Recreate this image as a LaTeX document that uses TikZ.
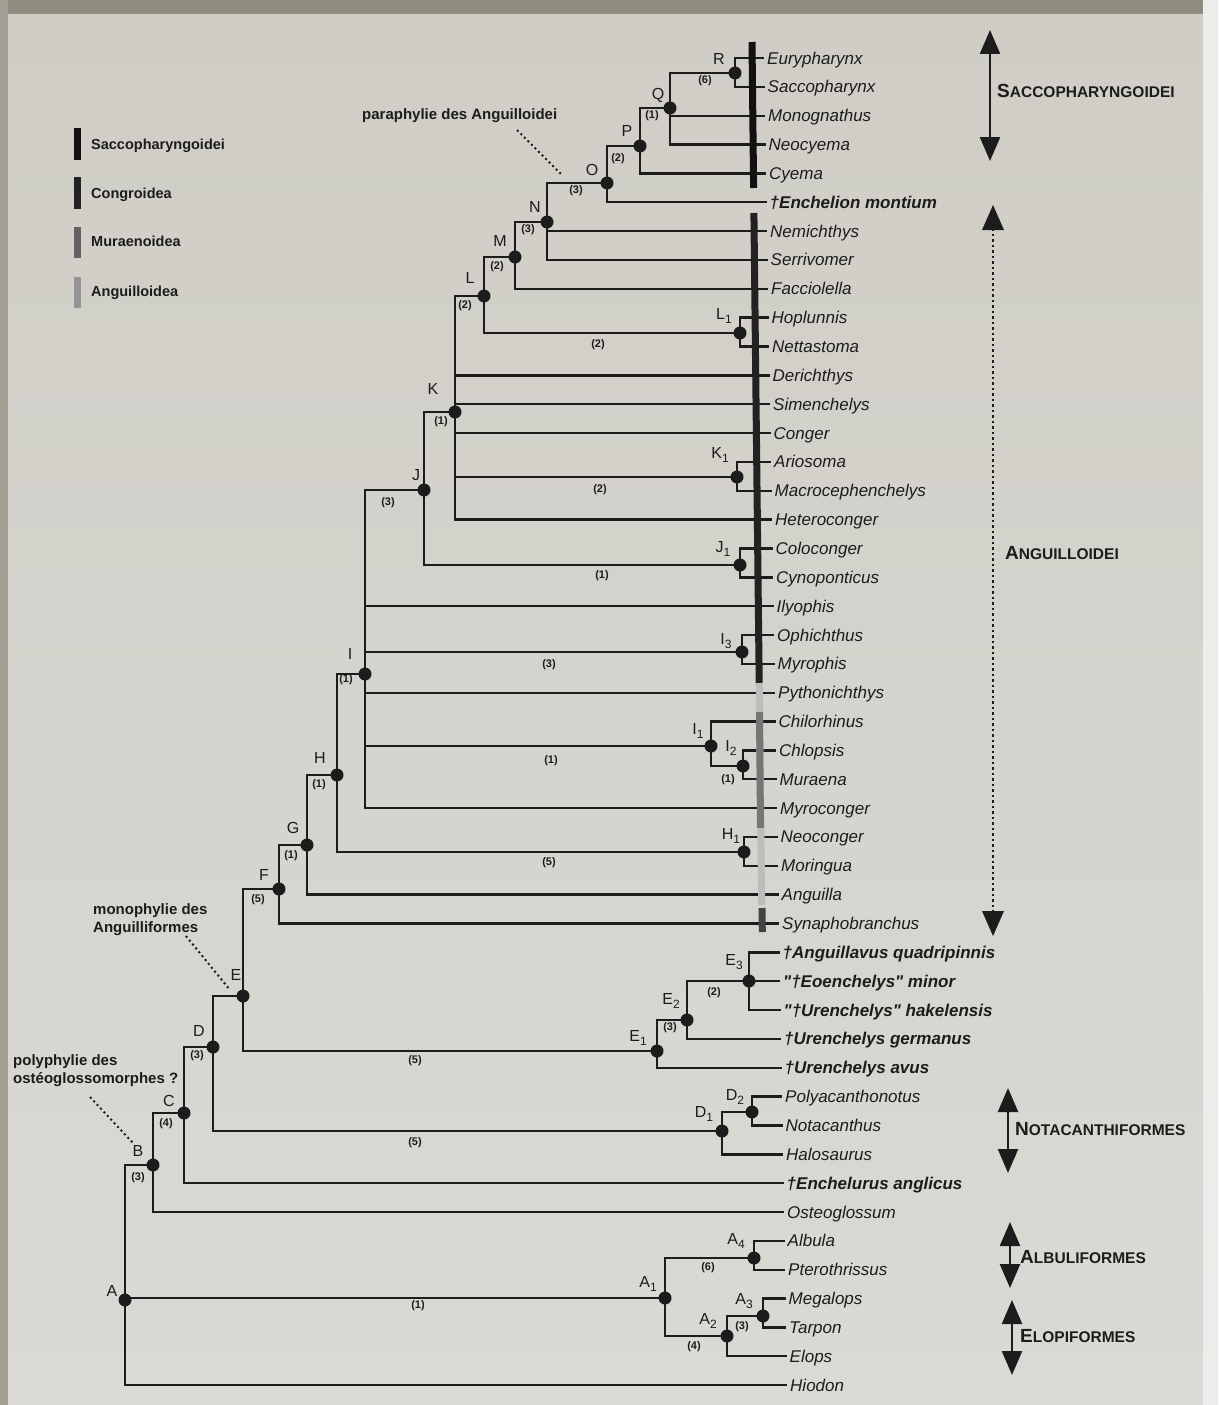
\documentclass[tikz,border=0pt]{standalone}
\usepackage{fontspec}
\setmainfont{Liberation Sans}[Ligatures=TeXOff]
\usetikzlibrary{arrows.meta,calc}
\definecolor{ink}{HTML}{1C1C1C}
\definecolor{bgtop}{HTML}{CFCDC5}
\definecolor{bgbot}{HTML}{DAD9D5}
\definecolor{frametop}{HTML}{8F8B7F}
\definecolor{frameleft}{HTML}{A29E93}
\definecolor{frameright}{HTML}{ECECEA}
\definecolor{barA}{HTML}{111111}
\definecolor{barB}{HTML}{222222}
\definecolor{barC}{HTML}{767676}
\definecolor{barD}{HTML}{BDBDBD}
\newcommand\sub[1]{\raisebox{-4pt}{\fontsize{12}{12}\selectfont #1}}
\newcommand\fos{\bfseries}
\newcommand\gsc[2]{{\fontsize{19}{19}\selectfont #1}{\fontsize{15.5}{15.5}\selectfont #2}}
\newcommand\clade[4]{%
  \draw[br] (#1 |- #2) -- (#1 |- #3);
  \foreach \cc in {#4}{\draw[br] (#1 |- \cc) -- (\cc);}}
\tikzset{
  br/.style={draw=ink, line width=2.4pt, line cap=rect},
  taxon/.style={anchor=base west, inner sep=0, text=ink, font=\fontsize{17}{17}\selectfont\itshape},
  nlab/.style={inner sep=0, text=ink, font=\fontsize{16}{16}\selectfont},
  blab/.style={inner sep=0, text=ink, font=\fontsize{11}{11}\selectfont\bfseries},
  annot/.style={anchor=base west, inner sep=0, text=ink, font=\fontsize{15}{15}\selectfont\bfseries},
  legtext/.style={anchor=base west, inner sep=0, text=ink, font=\fontsize{14.5}{14.5}\selectfont\bfseries},
  grp/.style={anchor=base west, inner sep=0, text=ink, font=\bfseries},
  leader/.style={draw=ink, line width=2pt, dash pattern=on 2pt off 3pt},
  garrow/.style={draw=ink, line width=2.5pt, {Triangle[length=24pt,width=20pt]}-{Triangle[length=24pt,width=20pt]}},
  legbar/.style={line width=7pt},
}
\begin{document}
\begin{tikzpicture}[x=1pt,y=-1pt]
\useasboundingbox (0,0) rectangle (1218,1405);
% background (photographed page)
\shade[top color=bgtop, bottom color=bgbot] (0,0) rectangle (1218,1405);
\fill[frametop] (0,0) rectangle (1218,14);
\fill[frameleft] (0,0) rectangle (8,1405);
\fill[frameright] (1203,0) rectangle (1218,1405);

% leaf end points
\foreach \i in {1,...,47}{\coordinate (l\i) at ({763+0.5*(\i-1)},{58+28.85*(\i-1)});}

% internal nodes
\coordinate (R) at (735,73);
\coordinate (Q) at (670,108);
\coordinate (P) at (640,146);
\coordinate (O) at (607,183);
\coordinate (N) at (547,222);
\coordinate (M) at (515,257);
\coordinate (L1) at (740,333);
\coordinate (L) at (484,296);
\coordinate (K1) at (737,477);
\coordinate (K) at (455,412);
\coordinate (J1) at (740,565);
\coordinate (J) at (424,490);
\coordinate (I3) at (742,652);
\coordinate (I2) at (743,766);
\coordinate (I1) at (711,746);
\coordinate (I) at (365,674);
\coordinate (H1) at (744,852);
\coordinate (H) at (337,775);
\coordinate (G) at (307,845);
\coordinate (F) at (279,889);
\coordinate (E3) at (749,981);
\coordinate (E2) at (687,1020);
\coordinate (E1) at (657,1051);
\coordinate (E) at (243,996);
\coordinate (D2) at (752,1112);
\coordinate (D1) at (722,1131);
\coordinate (D) at (213,1047);
\coordinate (C) at (184,1113);
\coordinate (B) at (153,1165);
\coordinate (A4) at (754,1258);
\coordinate (A3) at (763,1316);
\coordinate (A2) at (727,1336);
\coordinate (A1) at (665,1298);
\coordinate (A) at (125,1300);

% branches
\clade{R}{l1}{l2}{l1,l2}
\clade{Q}{R}{l4}{R,l3,l4}
\clade{P}{Q}{l5}{Q,l5}
\clade{O}{P}{l6}{P,l6}
\clade{N}{O}{l8}{O,l7,l8}
\clade{M}{N}{l9}{N,l9}
\clade{L1}{l10}{l11}{l10,l11}
\clade{L}{M}{L1}{M,L1}
\clade{K1}{l15}{l16}{l15,l16}
\clade{K}{L}{l17}{L,l12,l13,l14,K1,l17}
\clade{J1}{l18}{l19}{l18,l19}
\clade{J}{K}{J1}{K,J1}
\clade{I3}{l21}{l22}{l21,l22}
\clade{I2}{l25}{l26}{l25,l26}
\clade{I1}{l24}{I2}{l24,I2}
\clade{I}{J}{l27}{J,l20,I3,l23,I1,l27}
\clade{H1}{l28}{l29}{l28,l29}
\clade{H}{I}{H1}{I,H1}
\clade{G}{H}{l30}{H,l30}
\clade{F}{G}{l31}{G,l31}
\clade{E3}{l32}{l34}{l32,l33,l34}
\clade{E2}{E3}{l35}{E3,l35}
\clade{E1}{E2}{l36}{E2,l36}
\clade{E}{F}{E1}{F,E1}
\clade{D2}{l37}{l38}{l37,l38}
\clade{D1}{D2}{l39}{D2,l39}
\clade{D}{E}{D1}{E,D1}
\clade{C}{D}{l40}{D,l40}
\clade{B}{C}{l41}{C,l41}
\clade{A4}{l42}{l43}{l42,l43}
\clade{A3}{l44}{l45}{l44,l45}
\clade{A2}{A3}{l46}{A3,l46}
\clade{A1}{A4}{A2}{A4,A2}
\clade{A}{B}{l47}{B,A1,l47}

% dots
\foreach \n in {R,Q,P,O,N,M,L1,L,K1,K,J1,J,I3,I2,I1,I,H1,H,G,F,E3,E2,E1,E,D2,D1,D,C,B,A4,A3,A2,A1,A}
  \fill[ink] (\n) circle (6.5);

% group bars along the taxa
\draw[barA, legbar] (752,42) -- (753.6,188);
\draw[barB, legbar] (753.9,213) -- (759.2,683);
\draw[barD, legbar] (759.2,683) -- (761.7,905);
\draw[barC, legbar] (759.5,712) -- (760.5,828);
\draw[barB!85!white, legbar] (762,908) -- (762.3,932);

% taxa
\foreach \t [count=\i] in {Eurypharynx, Saccopharynx, Monognathus, Neocyema, Cyema,
  {\fos †Enchelion montium}, Nemichthys, Serrivomer, Facciolella, Hoplunnis, Nettastoma,
  Derichthys, Simenchelys, Conger, Ariosoma, Macrocephenchelys, Heteroconger, Coloconger,
  Cynoponticus, Ilyophis, Ophichthus, Myrophis, Pythonichthys, Chilorhinus, Chlopsis,
  Muraena, Myroconger, Neoconger, Moringua, Anguilla, Synaphobranchus,
  {\fos †Anguillavus quadripinnis}, {\fos "†Eoenchelys" minor}, {\fos "†Urenchelys" hakelensis},
  {\fos †Urenchelys germanus}, {\fos †Urenchelys avus}, Polyacanthonotus, Notacanthus,
  Halosaurus, {\fos †Enchelurus anglicus}, Osteoglossum, Albula, Pterothrissus, Megalops,
  Tarpon, Elops, Hiodon}
  \node[taxon] (n\i) at ($(l\i)+(4,6)$) {\t};

% node letters
\foreach \n/\x/\y/\t in {R/719/59/R, Q/658/95/Q, P/627/131/P, O/592/170/O, N/535/207/N,
  M/500/241/M, L/470/278/L, L1/724/316/{L\sub1}, K/433/389/K, K1/720/455/{K\sub1},
  J/416/475/J, J1/723/549/{J\sub1}, I/350/654/I, I3/726/641/{I\sub3}, I1/698/731/{I\sub1},
  I2/731/748/{I\sub2}, H/320/758/H, H1/731/836/{H\sub1}, G/293/828/G, F/264/875/F,
  E/236/975/E, E3/734/962/{E\sub3}, E2/671/1001/{E\sub2}, E1/638/1038/{E\sub1},
  D/199/1031/D, D2/735/1097/{D\sub2}, D1/704/1114/{D\sub1}, C/169/1101/C, B/138/1151/B,
  A/112/1291/A, A1/648/1284/{A\sub1}, A4/736/1241/{A\sub4}, A3/744/1301/{A\sub3},
  A2/708/1321/{A\sub2}}
  \node[nlab] (lab\n) at (\x,\y) {\t};

% branch values
\foreach \n/\x/\y/\t in {R/705/81/6, Q/652/116/1, P/618/159/2, O/576/191/3, N/528/230/3,
  M/497/267/2, L/465/306/2, L1/598/345/2, K/441/422/1, K1/600/490/2, J/388/503/3,
  J1/602/576/1, I/346/680/1, I3/549/665/3, I1/551/761/1, I2/728/780/1, H/319/785/1,
  H1/549/863/5, G/291/856/1, F/258/900/5, E1/415/1061/5, E2/670/1028/3, E3/714/993/2,
  D/197/1056/3, D1/415/1143/5, C/166/1124/4, B/138/1178/3, A1/418/1306/1, A4/708/1268/6,
  A2/694/1347/4, A3/742/1327/3}
  \node[blab] (b\n) at (\x,\y) {(\t)};

% annotations
\node[annot] (para) at (362,119) {paraphylie des Anguilloidei};
\coordinate (paraA) at (517,130); \coordinate (paraB) at (562,175);
\draw[leader] (paraA) -- (paraB);
\node[annot] (mono1) at (93,914) {monophylie des};
\node[annot] (mono2) at (93,932) {Anguilliformes};
\coordinate (monoA) at (186,936); \coordinate (monoB) at (230,990);
\draw[leader] (monoA) -- (monoB);
\node[annot] (poly1) at (13,1065) {polyphylie des};
\node[annot] (poly2) at (13,1083) {ostéoglossomorphes ?};
\coordinate (polyA) at (90,1097); \coordinate (polyB) at (133,1143);
\draw[leader] (polyA) -- (polyB);

% legend
\draw[barA, legbar] (77,128) -- (77,160);
\draw[barB, legbar] (77,177) -- (77,209);
\draw[black!62, legbar] (77,227) -- (77,258);
\draw[black!42, legbar] (77,277) -- (77,308);
\node[legtext] (leg1) at (91,149) {Saccopharyngoidei};
\node[legtext] (leg2) at (91,198) {Congroidea};
\node[legtext] (leg3) at (91,246) {Muraenoidea};
\node[legtext] (leg4) at (91,296) {Anguilloidea};

% group arrows
\coordinate (sA) at (990,30); \coordinate (sB) at (990,161);
\draw[garrow] (sA) -- (sB);
\node[grp] (gS) at (997,97) {\gsc{S}{ACCOPHARYNGOIDEI}};

\coordinate (aA) at (993,205); \coordinate (aB) at (993,936);
\draw[draw=ink, line width=2.5pt, dash pattern=on 2.5pt off 3pt] (993,228) -- (993,912);
\fill[ink] (982,230) -- (aA) -- (1004,230) -- cycle;
\fill[ink] (982,911) -- (aB) -- (1004,911) -- cycle;
\node[grp] (gA) at (1005,559) {\gsc{A}{NGUILLOIDEI}};

\coordinate (nA) at (1008,1088); \coordinate (nB) at (1008,1173);
\draw[garrow] (nA) -- (nB);
\node[grp] (gN) at (1015,1135) {\gsc{N}{OTACANTHIFORMES}};

\coordinate (alA) at (1010,1222); \coordinate (alB) at (1010,1288);
\draw[garrow] (alA) -- (alB);
\node[grp] (gAl) at (1020,1263) {\gsc{A}{LBULIFORMES}};

\coordinate (elA) at (1012,1300); \coordinate (elB) at (1012,1375);
\draw[garrow] (elA) -- (elB);
\node[grp] (gE) at (1020,1342) {\gsc{E}{LOPIFORMES}};
\end{tikzpicture}
\end{document}
